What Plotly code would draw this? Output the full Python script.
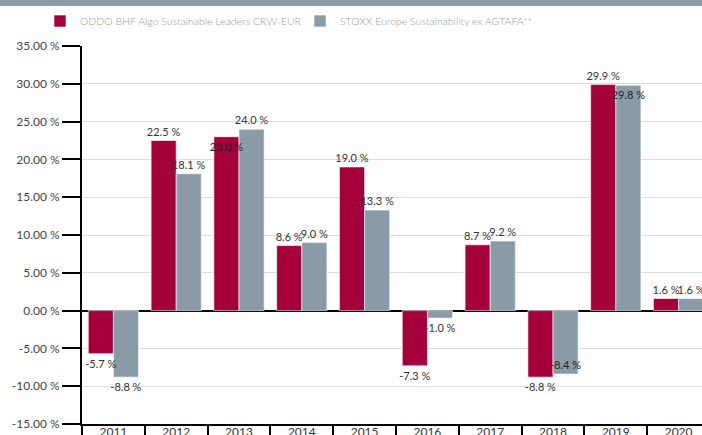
import plotly.graph_objects as go

YEARS = ["2011", "2012", "2013", "2014", "2015", "2016", "2017", "2018", "2019", "2020"]
FUND = [-5.7, 22.5, 23.0, 8.6, 19.0, -7.3, 8.7, -8.8, 29.9, 1.6]
INDEX = [-8.8, 18.1, 24.0, 9.0, 13.3, -1.0, 9.2, -8.4, 29.8, 1.6]
FUND_NAME = "ODDO BHF Algo Sustainable Leaders CRW-EUR"
INDEX_NAME = "STOXX Europe Sustainability ex AGTAFA**"
Y_TICKS = [-15, -10, -5, 0, 5, 10, 15, 20, 25, 30, 35]

RED = "#a5003a"
GREY = "#8a9ba8"
FONT = "Lato"

# figure is slightly larger than the 702x435 window: the chart is cropped at right/bottom
W, H = 710, 443
ML, MR, MT, MB = 82, 0, 46, 19
plot_w = W - ML - MR
plot_h = H - MT - MB
BAR_W = 0.4


def labels(vals):
    return [f"{v:.1f} %" for v in vals]


def positions(vals, inside_idx):
    return ["inside" if i in inside_idx else "outside" for i in range(len(vals))]


def bar(x, y, name, color, offset, rank):
    return go.Bar(
        x=x, y=y, name=name, legendrank=rank,
        width=BAR_W, offset=offset,
        marker=dict(color=color, line=dict(color="rgba(255,255,255,0.6)", width=1)),
        hoverinfo="skip",
    )


def label_layer(x, y, inside_idx, offset):
    # transparent copy of the bars that only carries the value labels, drawn above all bars
    return go.Bar(
        x=x, y=y, showlegend=False, hoverinfo="skip",
        width=BAR_W, offset=offset,
        marker=dict(color="rgba(0,0,0,0)", line=dict(width=0)),
        text=labels(y), textposition=positions(y, inside_idx),
        insidetextanchor="end", textangle=0,
        insidetextfont=dict(family=FONT, size=11, color="#222222"),
        outsidetextfont=dict(family=FONT, size=11, color="#333333"),
        constraintext="none", cliponaxis=False,
    )


fig = go.Figure()
fig.add_trace(bar(YEARS, FUND, FUND_NAME, RED, -BAR_W, 1))
fig.add_trace(bar(YEARS, INDEX, INDEX_NAME, GREY, 0.0, 2))
fig.add_trace(label_layer(YEARS, FUND, {2}, -BAR_W))
fig.add_trace(label_layer(YEARS, INDEX, {7, 8}, 0.0))

# top grey band (page y 0..6)
fig.add_shape(type="rect", xref="paper", yref="paper",
              x0=-0.3, x1=1.1, y0=1 + (MT - 6) / plot_h, y1=1 + (MT + 4) / plot_h,
              fillcolor=GREY, line=dict(width=0), layer="above")

fig.update_layout(
    width=W, height=H,
    margin=dict(l=ML, r=MR, t=MT, b=MB, autoexpand=False),
    paper_bgcolor="white", plot_bgcolor="white",
    barmode="overlay",
    font=dict(family=FONT, size=12, color="#444444"),
    showlegend=True,
    legend=dict(orientation="h", x=(40 - ML) / plot_w, xanchor="left",
                y=1 + (MT - 21) / plot_h, yanchor="middle",
                font=dict(family=FONT, size=10.5, color="#9a9a9a", weight=300),
                entrywidth=215, entrywidthmode="pixels",
                bgcolor="rgba(0,0,0,0)", traceorder="normal"),
    xaxis=dict(type="category", range=[-0.5, 9.5],
               showline=True, linecolor="black", linewidth=2,
               ticks="outside", tickson="boundaries", ticklen=14,
               tickcolor="black", tickwidth=1.5,
               showgrid=False, automargin=False,
               ticklabelstandoff=-4,
               tickfont=dict(family=FONT, size=12, color="#333333")),
    yaxis=dict(range=[-15, 35], tickvals=Y_TICKS,
               ticktext=[f"{v:.2f} %" for v in Y_TICKS],
               showline=True, linecolor="black", linewidth=2,
               ticks="outside", ticklen=18, tickcolor="black", tickwidth=1.5,
               showgrid=True, gridcolor="#dddddd", gridwidth=1,
               zeroline=True, zerolinecolor="black", zerolinewidth=2,
               automargin=False,
               tickfont=dict(family=FONT, size=12, color="#444444")),
)

fig.write_html(
    "out.html",
    config={"displayModeBar": False},
    post_script="document.body.style.margin='0';document.body.style.overflow='hidden';",
)
